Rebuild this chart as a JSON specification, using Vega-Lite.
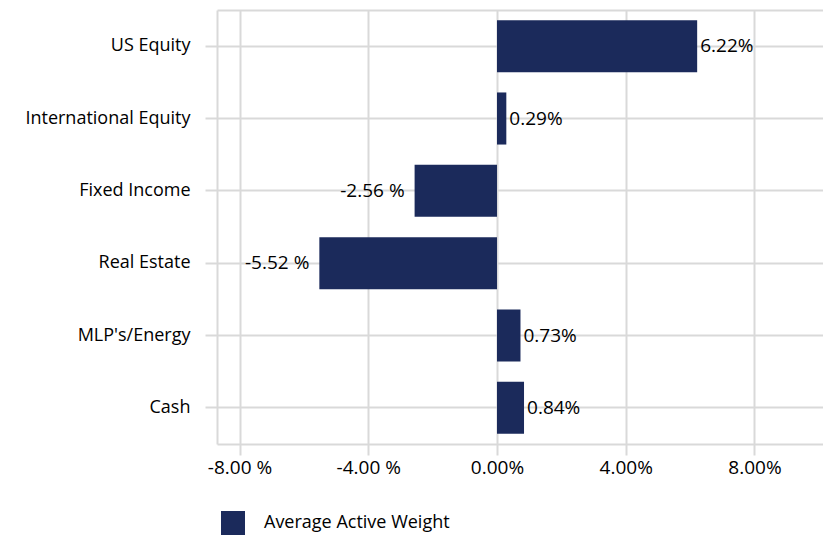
{
  "$schema": "https://vega.github.io/schema/vega-lite/v6.json",
  "width": 606,
  "height": 434,
  "autosize": "none",
  "padding": {"left": 217, "top": 10, "right": 0, "bottom": 94},
  "background": "white",
  "config": {
    "font": "Open Sans",
    "view": {"stroke": null},
    "axis": {
      "labelFont": "Open Sans",
      "labelFontSize": 18,
      "labelColor": "#000000",
      "gridColor": "#d9d9d9",
      "gridWidth": 2,
      "domainColor": "#d9d9d9",
      "domainWidth": 2,
      "tickColor": "#d9d9d9",
      "tickWidth": 2
    },
    "legend": {"labelFont": "Open Sans", "labelFontSize": 18, "labelColor": "#000000", "labelLimit": 400}
  },
  "data": {
    "values": [
      {"category": "US Equity", "value": 6.22, "label": "6.22%"},
      {"category": "International Equity", "value": 0.29, "label": "0.29%"},
      {"category": "Fixed Income", "value": -2.56, "label": "-2.56 %"},
      {"category": "Real Estate", "value": -5.52, "label": "-5.52 %"},
      {"category": "MLP's/Energy", "value": 0.73, "label": "0.73%"},
      {"category": "Cash", "value": 0.84, "label": "0.84%"}
    ]
  },
  "encoding": {
    "y": {
      "field": "category",
      "type": "nominal",
      "sort": null,
      "scale": {"paddingInner": 0.28, "paddingOuter": 0.14},
      "axis": {
        "title": null,
        "bandPosition": 0.5,
        "grid": true,
        "tickSize": 12,
        "labelPadding": 15,
        "domain": true
      }
    }
  },
  "layer": [
    {
      "mark": {"type": "bar", "color": "#1b2a5b"},
      "encoding": {
        "x": {
          "field": "value",
          "type": "quantitative",
          "scale": {"domain": [-8.7, 10.13], "nice": false, "zero": false},
          "axis": {
            "title": null,
            "values": [-8, -4, 0, 4, 8],
            "grid": true,
            "tickSize": 11,
            "labelPadding": 3,
            "labelFontSize": 19,
            "labelExpr": "datum.value < 0 ? '-' + format(-datum.value, '.2f') + ' %' : format(datum.value, '.2f') + '%'"
          }
        },
        "fill": {
          "datum": "Average Active Weight",
          "type": "nominal",
          "scale": {"range": ["#1b2a5b"]},
          "legend": {
            "title": null,
            "orient": "none",
            "legendX": 4,
            "legendY": 501,
            "padding": 0,
            "symbolType": "square",
            "symbolSize": 576,
            "symbolStrokeWidth": 0,
            "labelOffset": 19,
            "labelLimit": 400
          }
        }
      }
    },
    {
      "mark": {
        "type": "text",
        "fontSize": 19,
        "font": "Open Sans",
        "color": "#000000",
        "baseline": "middle",
        "align": {"expr": "datum.value < 0 ? 'right' : 'left'"},
        "dx": {"expr": "datum.value < 0 ? -10 : 3"}
      },
      "encoding": {
        "x": {
          "field": "value",
          "type": "quantitative",
          "axis": {
            "orient": "top",
            "title": null,
            "labels": false,
            "ticks": false,
            "grid": false,
            "domain": true
          }
        },
        "text": {"field": "label"}
      }
    }
  ],
  "resolve": {"axis": {"x": "independent"}}
}
